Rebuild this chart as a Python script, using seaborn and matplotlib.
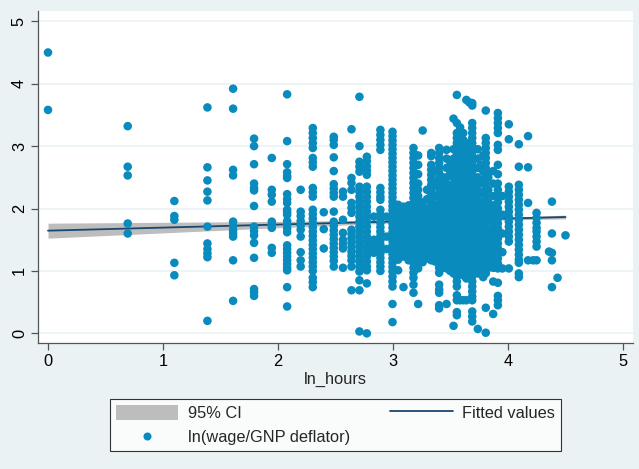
import numpy as np
import pandas as pd
import matplotlib
matplotlib.use("Agg")
import matplotlib.pyplot as plt
import seaborn as sns
from matplotlib.patches import Patch
from matplotlib.lines import Line2D

# ---- data: hours worked (column) and ln(wage/GNP deflator) values read per column ----
col_hours = [1, 2, 3, 4, 5, 6, 7, 8, 9, 10, 11, 12, 13, 14, 15, 16, 17, 18, 19, 20,
             21, 22, 23, 24, 25, 26, 27, 28, 29, 30, 31, 32, 33, 34, 35, 36, 37, 38, 39, 40,
             42, 43, 44, 45, 46, 48, 50, 52, 55, 60, 65, 68, 70, 78, 80, 84, 90]

col_wages = [
    [4.50, 3.58],
    [3.32, 2.67, 2.53, 1.76, 1.60],
    [2.12, 1.88, 1.82, 1.13, 0.93],
    [3.62, 2.66, 2.45, 2.27, 2.13, 1.71, 1.44, 1.35, 1.28, 1.22, 0.20],
    [3.92, 3.60, 2.62, 2.53, 1.79, 1.72, 1.65, 1.60, 1.55, 1.17, 0.52],
    [3.12, 3.00, 2.71, 2.40, 2.33, 2.29, 2.04, 1.71, 1.64, 1.57, 1.45, 1.21, 0.71, 0.66, 0.60],
    [2.81, 2.30, 2.22, 2.11, 1.79, 1.74, 1.69, 1.37, 1.29],
    [3.83, 3.08, 2.71, 2.58, 2.52, 2.49, 2.23, 2.15, 2.09, 1.98, 1.94, 1.90, 1.80, 1.74,
     1.68, 1.62, 1.41, 1.35, 1.29, 1.23, 1.17, 1.11, 1.05, 1.01, 0.74, 0.43],
    [2.30, 1.95, 1.88, 1.80, 1.73, 1.66, 1.55, 1.30, 1.17, 1.07],
    [3.29, 3.21, 3.13, 3.05, 2.97, 2.81, 2.74, 2.67, 2.33, 2.26, 2.19, 1.98, 1.91, 1.84,
     1.77, 1.70, 1.63, 1.56, 1.49, 1.42, 1.35, 1.28, 1.21, 1.14, 1.07, 1.00, 0.89, 0.82, 0.74],
    [1.94, 1.67, 1.36],
    [3.15, 3.10, 3.02, 2.82, 2.60, 2.39, 2.32, 2.25, 2.19, 1.95, 1.79, 1.72, 1.65, 1.58,
     1.51, 1.44, 1.37, 1.30, 1.23, 1.16, 1.07],
    [2.27, 2.19, 1.82, 1.61, 1.50, 1.43, 1.36, 1.05],
    [3.27, 2.49, 2.41, 2.30, 2.09, 2.01, 1.93, 1.66, 1.59, 1.52, 1.45, 1.38, 1.31, 1.24,
     1.17, 1.07, 0.69],
    [3.79, 3.00, 2.75, 2.67, 2.59, 2.35, 2.27, 2.19, 2.11, 2.03, 1.95, 1.87, 1.79, 1.71,
     1.63, 1.55, 1.47, 1.39, 1.31, 1.23, 1.15, 1.07, 0.99, 0.85, 0.69, 0.03],
    [2.83, 2.76, 2.68, 2.61, 2.54, 2.35, 2.27, 2.19, 2.11, 2.03, 1.95, 1.87, 1.79, 1.71,
     1.63, 1.55, 1.47, 1.39, 1.31, 1.23, 1.15, 1.07, 1.01, 0.80, 0.00],
    [1.87, 1.50, 1.43, 1.36, 1.29],
    [3.26, 3.18, 3.10, 3.02, 2.94, 2.33, 2.26, 2.19, 2.14, 1.98, 1.91, 1.84, 1.77, 1.70,
     1.63, 1.56, 1.49, 1.42, 1.35, 1.28, 1.21, 1.14, 1.07, 1.00],
    [1.87, 1.55, 1.35],
    [3.23, 3.16, 3.09, 3.02, 2.95, 2.88, 2.81, 2.74, 2.67, 2.60, 2.53, 2.46, 2.39, 2.32,
     2.25, 2.18, 2.11, 2.04, 1.97, 1.90, 1.83, 1.76, 1.69, 1.62, 1.55, 1.48, 1.41, 1.34,
     1.27, 1.20, 1.13, 1.06, 0.99, 0.91, 0.83, 0.75, 0.47, 0.18],
    [2.06, 1.98, 1.90, 1.82, 1.74, 1.66, 1.58, 1.50, 1.42, 1.34, 1.26, 1.18, 1.01],
    [2.03, 1.95, 1.87, 1.79, 1.71, 1.63, 1.55, 1.47, 1.39, 1.31, 1.23, 0.74],
    [2.05, 1.97, 1.89, 1.81, 1.73, 1.65, 1.57, 1.49, 1.41, 1.33, 1.25, 1.17],
    [2.97, 2.89, 2.81, 2.73, 2.65, 2.57, 2.49, 2.41, 2.33, 2.25, 2.17, 2.09, 2.01, 1.93,
     1.85, 1.77, 1.69, 1.61, 1.53, 1.45, 1.37, 1.29, 1.21, 1.13, 1.05, 0.97, 0.89, 0.78, 0.65],
    [2.85, 2.70, 2.55, 2.40, 2.30, 2.20, 2.10, 2.00, 1.92, 1.84, 1.76, 1.68, 1.60, 1.52,
     1.44, 1.36, 1.28, 1.20, 1.12, 1.04, 0.47],
    [3.25, 2.10, 2.02, 1.94, 1.86, 1.78, 1.70, 1.62, 1.54, 1.46, 1.38, 1.30, 1.22, 1.14],
    [2.30, 2.15, 2.00, 1.92, 1.84, 1.76, 1.68, 1.60, 1.52, 1.44, 1.36, 1.28, 1.20],
    [2.89, 2.84, 2.70, 2.62, 2.54, 2.46, 2.38, 2.30, 2.22, 2.14, 2.06, 1.98, 1.90, 1.82,
     1.74, 1.66, 1.58, 1.50, 1.42, 1.34, 1.26, 1.17],
    [2.60, 2.40, 2.20, 2.05, 1.95, 1.85, 1.75, 1.65, 1.55, 1.45, 1.35, 1.25, 1.15],
    [2.97, 2.89, 2.81, 2.73, 2.65, 2.57, 2.49, 2.41, 2.33, 2.25, 2.17, 2.09, 2.01, 1.93,
     1.85, 1.77, 1.69, 1.61, 1.53, 1.45, 1.37, 1.29, 1.21, 1.13, 1.05, 0.97, 0.78, 0.70,
     0.65, 0.45, 0.40],
    [2.50, 2.30, 2.10, 1.95, 1.85, 1.75, 1.65, 1.55, 1.45, 1.35, 1.25, 1.15, 1.05],
    [2.94, 2.80, 2.65, 2.50, 2.40, 2.30, 2.20, 2.10, 2.00, 1.92, 1.84, 1.76, 1.68, 1.60,
     1.52, 1.44, 1.36, 1.28, 1.20, 1.12, 1.04, 0.47],
    [2.75, 2.55, 2.35, 2.20, 2.10, 2.00, 1.90, 1.80, 1.70, 1.60, 1.50, 1.40, 1.30, 1.20,
     1.10, 1.00],
    [3.44, 2.95, 2.80, 2.65, 2.50, 2.40, 2.30, 2.20, 2.10, 2.00, 1.92, 1.84, 1.76, 1.68,
     1.60, 1.52, 1.44, 1.36, 1.28, 1.20, 1.12, 1.04, 0.96, 0.12],
    [3.82, 3.37, 3.21, 3.13, 3.05, 2.97, 2.89, 2.81, 2.73, 2.65, 2.57, 2.49, 2.41, 2.33,
     2.25, 2.17, 2.09, 2.01, 1.93, 1.85, 1.77, 1.69, 1.61, 1.53, 1.45, 1.37, 1.29, 1.21,
     1.13, 1.05, 0.97, 0.91, 0.83, 0.75, 0.61, 0.53, 0.34, 0.29],
    [3.30, 3.15, 3.00, 2.85, 2.70, 2.60, 2.50, 2.40, 2.30, 2.20, 2.10, 2.00, 1.92, 1.84,
     1.76, 1.68, 1.60, 1.52, 1.44, 1.36, 1.28, 1.20, 1.12, 1.04, 0.96, 0.53],
    [3.21, 3.10, 2.95, 2.80, 2.65, 2.55, 2.45, 2.35, 2.25, 2.15, 2.05, 1.97, 1.89, 1.81,
     1.73, 1.65, 1.57, 1.49, 1.41, 1.33, 1.25, 1.17, 1.09, 1.01, 0.93, 0.53],
    [3.74, 3.05, 2.90, 2.75, 2.60, 2.50, 2.40, 2.30, 2.20, 2.10, 2.00, 1.92, 1.84, 1.76,
     1.68, 1.60, 1.52, 1.44, 1.36, 1.28, 1.20, 1.12, 1.04, 0.96, 0.88, 0.53],
    [3.70, 3.00, 2.85, 2.70, 2.55, 2.45, 2.35, 2.25, 2.15, 2.05, 1.97, 1.89, 1.81, 1.73,
     1.65, 1.57, 1.49, 1.41, 1.33, 1.25, 1.17, 1.09, 1.01],
    [3.69, 3.65, 3.37, 3.29, 3.21, 3.13, 3.05, 2.99, 2.91, 2.83, 2.75, 2.67, 2.59, 2.51,
     2.43, 2.35, 2.27, 2.19, 2.11, 2.03, 1.95, 1.87, 1.79, 1.71, 1.63, 1.55, 1.47, 1.39,
     1.31, 1.23, 1.15, 1.07, 0.99, 0.91, 0.83, 0.75, 0.67, 0.59, 0.53, 0.35, 0.27, 0.19],
    [2.95, 2.80, 2.65, 2.50, 2.40, 2.30, 2.20, 2.10, 2.00, 1.92, 1.84, 1.76, 1.68, 1.60,
     1.52, 1.44, 1.36, 1.28, 1.20, 1.12, 1.04, 0.96, 0.07],
    [2.70, 2.45, 2.25, 2.10, 1.95, 1.85, 1.75, 1.65, 1.55, 1.45, 1.35, 1.25, 1.15, 1.05],
    [2.85, 2.60, 2.40, 2.25, 2.10, 2.00, 1.90, 1.80, 1.70, 1.60, 1.50, 1.40, 1.30, 1.20,
     1.10, 1.00, 0.90],
    [3.57, 3.13, 3.05, 2.97, 2.89, 2.81, 2.73, 2.65, 2.57, 2.51, 2.40, 2.30, 2.20, 2.10,
     2.00, 1.92, 1.84, 1.76, 1.68, 1.60, 1.52, 1.44, 1.36, 1.28, 1.20, 1.12, 1.04, 0.96,
     0.41, 0.01],
    [2.50, 2.30, 2.10, 1.95, 1.80, 1.65, 1.50, 1.35, 1.20, 1.05],
    [2.60, 2.40, 2.20, 2.05, 1.95, 1.85, 1.75, 1.65, 1.55, 1.45, 1.35, 1.25, 1.15, 1.05,
     0.83, 0.31],
    [3.53, 3.45, 3.37, 3.29, 3.21, 3.02, 2.94, 2.70, 2.55, 2.40, 2.30, 2.20, 2.10, 2.00,
     1.92, 1.84, 1.76, 1.68, 1.60, 1.52, 1.44, 1.36, 1.28, 1.20, 1.12, 1.04, 0.81, 0.60,
     0.53, 0.45],
    [2.20, 1.90, 1.60, 1.30, 1.04],
    [3.35, 3.11, 2.35, 2.27, 2.19, 2.11, 2.03, 1.95, 1.87, 1.79, 1.71, 1.63, 1.55, 1.47, 1.04],
    [3.03, 2.67, 2.38, 2.30, 2.22, 2.14, 2.06, 1.98, 1.90, 1.82, 1.74, 1.66, 1.58, 1.50,
     1.42, 1.34, 1.26, 1.18, 1.13, 0.96, 0.90],
    [3.16, 2.66, 2.09, 1.17],
    [1.17],
    [1.93, 1.85, 1.77, 1.69, 1.63, 1.55, 1.47, 1.39, 1.17],
    [1.31],
    [2.11, 1.60, 1.29, 1.17, 0.74],
    [0.89],
    [1.57],
]

# fitted line and 95% CI
fit_x = [0.0, 1.0, 2.0, 3.0, 4.0, 4.5]
fit_y = [1.645, 1.694, 1.743, 1.792, 1.840, 1.864]
ci_lo = [1.525, 1.609, 1.693, 1.767, 1.818, 1.834]
ci_hi = [1.765, 1.779, 1.793, 1.817, 1.862, 1.894]

x_ticks = [0, 1, 2, 3, 4, 5]
y_ticks = [0, 1, 2, 3, 4, 5]

# ---- build table ----
xs, ys = [], []
for h, vals in zip(col_hours, col_wages):
    for v in vals:
        xs.append(np.log(h))
        ys.append(v)
df = pd.DataFrame({"ln_hours": xs, "ln_wage": ys})
fit_df = pd.DataFrame({"x": fit_x, "y": fit_y})

# ---- style ----
sns.set_theme(style="white")
plt.rcParams["font.family"] = ["Liberation Sans", "DejaVu Sans"]

BG = "#EAF2F3"
PT = "#0A8BBE"
LINE = "#1A476F"
CI = "#BDBDBD"
FS = 11.8

fig = plt.figure(figsize=(6.39, 4.69), dpi=100, facecolor=BG)
ax = fig.add_axes([38 / 639, 1 - 343 / 469, (633 - 38) / 639, (343 - 11) / 469])
ax.set_facecolor("white")

ax.fill_between(fit_x, ci_lo, ci_hi, color=CI, lw=0, zorder=2)
sns.lineplot(data=fit_df, x="x", y="y", ax=ax, color=LINE, lw=1.3, zorder=3)
sns.scatterplot(data=df, x="ln_hours", y="ln_wage", ax=ax, color=PT, s=38,
                edgecolor="none", linewidth=0, zorder=4)

ax.set_xlim(-0.087, 5.087)
ax.set_ylim(-0.155, 5.165)
ax.set_xticks(x_ticks)
ax.set_yticks(y_ticks)
ax.set_xticklabels([str(t) for t in x_ticks], fontsize=FS)
ax.set_yticklabels([str(t) for t in y_ticks], fontsize=FS, rotation=90, va="center")
for t in y_ticks:
    ax.axhline(t, color=BG, lw=1.2, zorder=1)

for side in ["top", "right"]:
    ax.spines[side].set_visible(False)
for side in ["left", "bottom"]:
    ax.spines[side].set_color("#555555")
    ax.spines[side].set_linewidth(0.9)
ax.tick_params(axis="both", which="major", direction="out", length=5, width=0.9,
               color="#555555", labelcolor="black", pad=3,
               left=True, bottom=True)
ax.set_xlabel("ln_hours", fontsize=FS, labelpad=2)
ax.set_ylabel("")

handles = [Patch(facecolor=CI, edgecolor="none"),
           Line2D([], [], marker="o", color=PT, ls="none", markersize=5.8, markeredgewidth=0),
           Line2D([], [], color=LINE, lw=1.3)]
labels = ["95% CI", "ln(wage/GNP deflator)", "Fitted values"]
leg = fig.legend(handles, labels, ncol=2, loc="center",
                 bbox_to_anchor=(110 / 639, 1 - 452 / 469, 451 / 639, 54 / 469),
                 mode="expand", frameon=True, fancybox=False, fontsize=FS,
                 handlelength=3.8, handleheight=1.0, handletextpad=0.6,
                 borderpad=0.35, labelspacing=0.5, borderaxespad=0.0)
leg.get_frame().set_edgecolor("black")
leg.get_frame().set_linewidth(0.8)
leg.get_frame().set_facecolor("white")

fig.savefig("out.png", dpi=100, facecolor=BG)
